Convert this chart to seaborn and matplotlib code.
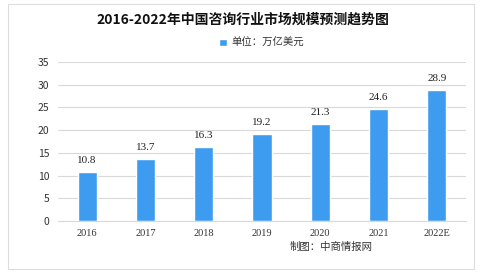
import matplotlib
matplotlib.use("Agg")
import matplotlib.pyplot as plt
import seaborn as sns
import pandas as pd
from matplotlib.patches import Rectangle

years = ["2016", "2017", "2018", "2019", "2020", "2021", "2022E"]
values = [10.8, 13.7, 16.3, 19.2, 21.3, 24.6, 28.9]
value_labels = ["10.8", "13.7", "16.3", "19.2", "21.3", "24.6", "28.9"]
yticks = [0, 5, 10, 15, 20, 25, 30, 35]
title = "2016-2022年中国咨询行业市场规模预测趋势图"
legend_label = "单位：万亿美元"
source = "制图：中商情报网"

sns.set_theme(style="white")
plt.rcParams['font.family'] = ['Noto Sans CJK SC', 'DejaVu Sans']

df = pd.DataFrame({"year": years, "value": values})

fig = plt.figure(figsize=(4.86, 2.74), dpi=100)
ax = fig.add_axes([58/486, 1 - 221/274, (466-58)/486, (221-62)/274])

color = "#3d9cf0"
sns.barplot(data=df, x="year", y="value", color=color, width=0.33, ax=ax,
            saturation=1, label=legend_label)

ax.set_ylim(0, 35)
ax.set_yticks(yticks)
ax.set_yticklabels([str(t) for t in yticks], fontsize=7.5, color="#333333")
ax.set_xticklabels(years, fontsize=7.5, color="#333333", family=['Liberation Serif'])
ax.tick_params(axis='both', length=0, pad=6)
ax.set_xlabel("")
ax.set_ylabel("")
ax.grid(axis='y', color="#d9d9d9", linewidth=0.8)
ax.set_axisbelow(True)
for s in ["top", "right", "left"]:
    ax.spines[s].set_visible(False)
ax.spines["bottom"].set_color("#d9d9d9")
ax.spines["bottom"].set_linewidth(0.8)

for p, lab in zip(ax.patches, value_labels):
    ax.annotate(lab, (p.get_x() + p.get_width() / 2, p.get_height()),
                xytext=(0, 5), textcoords="offset points", ha="center", va="bottom",
                fontsize=8, color="#222222", family=['Liberation Serif'])

leg = ax.legend(loc="lower center", bbox_to_anchor=(0.5, 1.03), frameon=False,
                fontsize=7.5, handlelength=0.7, handleheight=0.7, handletextpad=0.5)
for t in leg.get_texts():
    t.set_color("#333333")

fig.text(0.5, 1 - 20/274, title, ha="center", va="center", fontsize=10,
         fontweight="bold", color="#111111")
fig.text(290/486, 1 - 247/274, source, ha="left", va="center", fontsize=7.5, color="#333333")

fig.patches.append(Rectangle((8/486, 0.02), (474-8)/486, 1 - 4/274 - 0.02,
                             transform=fig.transFigure, fill=False,
                             edgecolor="#dddddd", linewidth=0.8))

fig.savefig("out.png", dpi=100)
